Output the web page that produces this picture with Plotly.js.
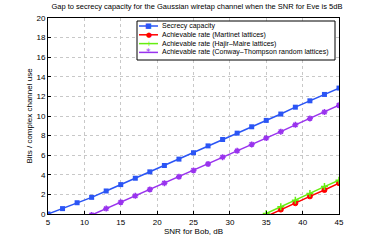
<!DOCTYPE html>
<html><head><meta charset="utf-8">
<script src="https://cdn.plot.ly/plotly-3.0.1.min.js"></script>
<style>html,body{margin:0;padding:0;background:#fff}#c{width:374px;height:240px}</style>
</head><body><div id="c"></div>
<script>
const snrSecrecy = [5,7,9,11,13,15,17,19,21,23,25,27,29,31,33,35,37,39,41,43,45];
const secrecy = [0,0.55,1.15,1.7,2.35,3.0,3.65,4.3,4.95,5.6,6.25,6.95,7.6,8.25,8.9,9.55,10.2,10.9,11.55,12.2,12.85];
const snrCT = [11,13,15,17,19,21,23,25,27,29,31,33,35,37,39,41,43,45];
const conway = [-0.1,0.55,1.2,1.85,2.5,3.15,3.8,4.45,5.1,5.8,6.45,7.1,7.75,8.4,9.1,9.75,10.4,11.1];
const snrLat = [35,37,39,41,43,45];
const martinet = [-0.25,0.45,1.1,1.8,2.45,3.15];
const hajir = [0.05,0.75,1.4,2.1,2.8,3.45];
const names = ['Secrecy capacity','Achievable rate (Martinet lattices)','Achievable rate (Hajir\u2013Maire lattices)','Achievable rate (Conway\u2013Thompson random lattices)'];
const xTicks = [5,10,15,20,25,30,35,40,45];
const yTicks = [0,2,4,6,8,10,12,14,16,18,20];
const colors = ['#2b55f5','#ff0000','#66ee11','#9933ee'];
const glyphs = ['\u25A0','\u25CF','+','*'];

const traces = [
 {x:snrSecrecy,y:secrecy,name:names[0],mode:'lines+markers',line:{color:colors[0],width:1.5},marker:{symbol:'square',size:5,color:colors[0]}},
 {x:snrLat,y:martinet,name:names[1],mode:'lines+markers',line:{color:colors[1],width:1.5},marker:{symbol:'circle-x',size:5,color:colors[1],line:{color:colors[1],width:1}}},
 {x:snrLat,y:hajir,name:names[2],mode:'lines+markers',line:{color:colors[2],width:1.5},marker:{symbol:'cross-thin-open',size:5,color:colors[2],line:{color:colors[2],width:1.5}}},
 {x:snrCT,y:conway,name:names[3],mode:'lines+markers',line:{color:colors[3],width:1.5},marker:{symbol:'asterisk-open',size:5,color:colors[3],line:{color:colors[3],width:1.5}}}
];
// manual compact legend (pixel layout converted to paper coords)
const L=48, W=291, B=214, H=196;
const px = v => (v-L)/W, py = v => (B-v)/H;
const shapes = [{type:'rect',xref:'paper',yref:'paper',x0:px(137),x1:px(335),y0:py(60),y1:py(21),line:{color:'#000',width:1},fillcolor:'#fff',layer:'above'}];
const annotations = [];
const rowY = [26,34.8,43.6,52.4];
names.forEach((n,i)=>{
  shapes.push({type:'line',xref:'paper',yref:'paper',x0:px(139),x1:px(158),y0:py(rowY[i]),y1:py(rowY[i]),line:{color:colors[i],width:1.5},layer:'above'});
  annotations.push({xref:'paper',yref:'paper',x:px(148.5),y:py(rowY[i]),text:glyphs[i],showarrow:false,xanchor:'center',yanchor:'middle',font:{size:i===3?9:7,color:colors[i],family:'DejaVu Sans'}});
  annotations.push({xref:'paper',yref:'paper',x:px(160),y:py(rowY[i]),text:n,showarrow:false,xanchor:'left',yanchor:'middle',font:{size:7,color:'#000'}});
});
const ax = {showline:true,linecolor:'#000',linewidth:1,mirror:true,ticks:'inside',ticklen:3,tickcolor:'#000',
  showgrid:true,gridcolor:'#c8c8c8',griddash:'dot',gridwidth:1,zeroline:false,tickfont:{family:'Liberation Sans, Arial',size:8,color:'#000'}};
const layout = {
 width:374,height:240,margin:{l:48,r:35,t:18,b:26},paper_bgcolor:'#fff',plot_bgcolor:'#fff',
 font:{family:'Liberation Sans, Arial',size:8,color:'#000'},
 title:{text:'Gap to secrecy capacity for the Gaussian wiretap channel when the SNR for Eve is 5dB',font:{size:7.5,color:'#000'},xref:'paper',x:0.512,xanchor:'center',y:0.985,yanchor:'top'},
 xaxis:Object.assign({},ax,{range:[5,45],tickvals:xTicks,title:{text:'SNR for Bob, dB',font:{size:8},standoff:0}}),
 yaxis:Object.assign({},ax,{range:[0,20],tickvals:yTicks,title:{text:'Bits / complex channel use',font:{size:8},standoff:2}}),
 showlegend:false, shapes:shapes, annotations:annotations
};
Plotly.newPlot('c',traces,layout,{staticPlot:true,displayModeBar:false});
</script></body></html>
